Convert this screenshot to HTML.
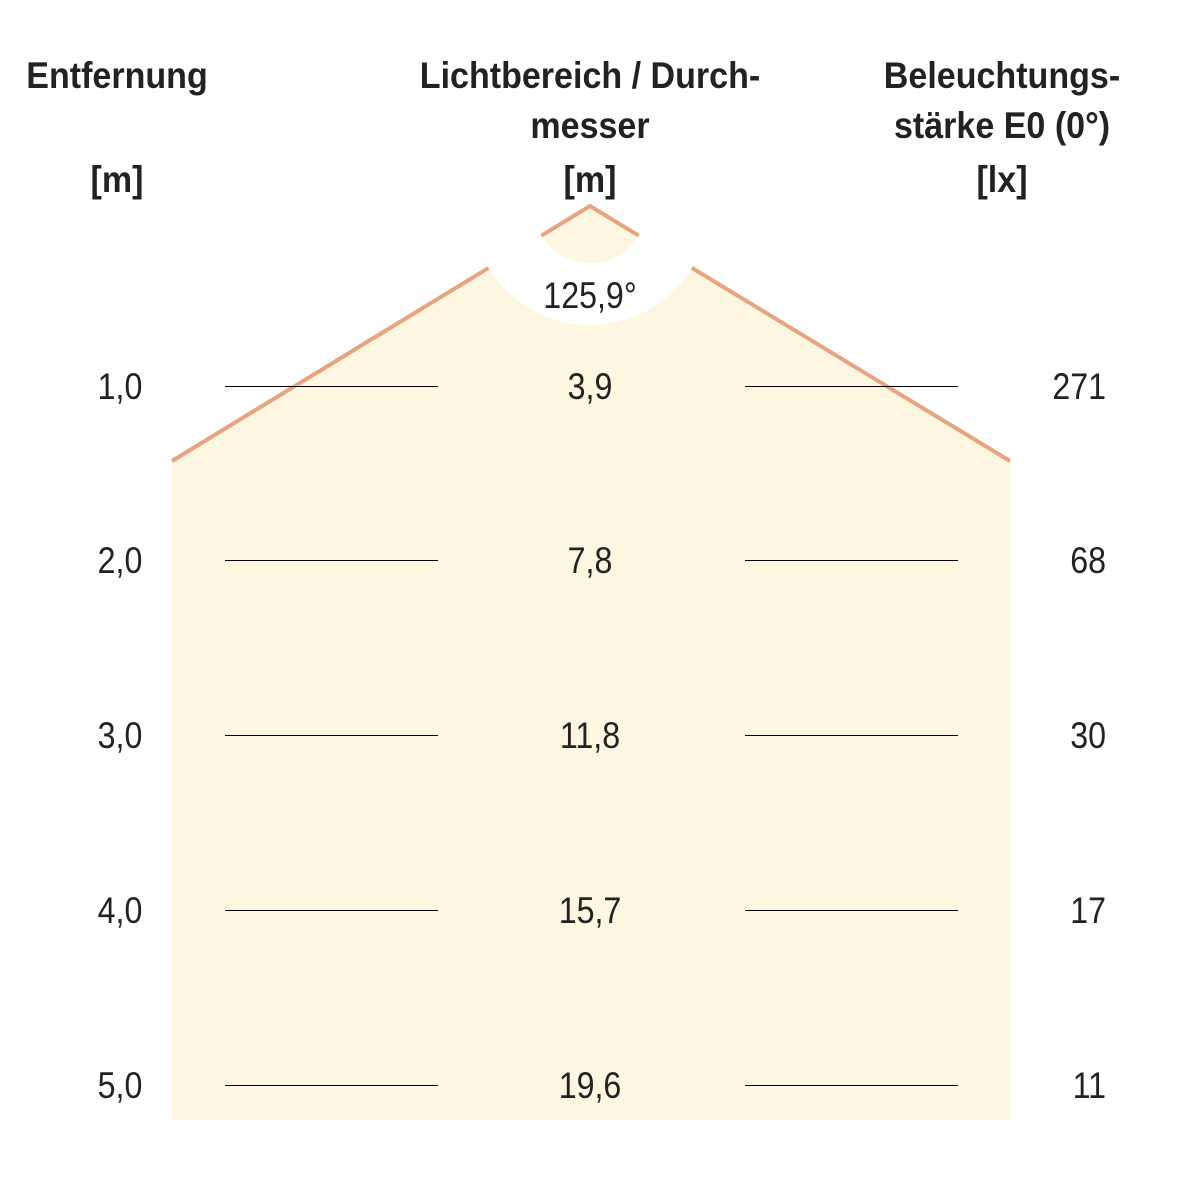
<!DOCTYPE html>
<html><head><style>body{margin:0;background:#fff}</style></head><body>
<svg width="1182" height="1182" viewBox="0 0 1182 1182" xmlns="http://www.w3.org/2000/svg">
<rect width="1182" height="1182" fill="#fff"/>
<polygon points="590,206 172,461 172,1120 1010,1120 1010,461" fill="#fdf7e1"/>
<polyline points="172,461 590,206 1010,461" fill="none" stroke="#e8a47e" stroke-width="4"/>
<circle cx="590" cy="206" r="88" fill="none" stroke="#fff" stroke-width="62"/>
<g stroke="#000" stroke-width="1" shape-rendering="crispEdges">
<line x1="225" y1="386.5" x2="438" y2="386.5"/><line x1="745" y1="386.5" x2="958" y2="386.5"/>
<line x1="225" y1="560.5" x2="438" y2="560.5"/><line x1="745" y1="560.5" x2="958" y2="560.5"/>
<line x1="225" y1="735.5" x2="438" y2="735.5"/><line x1="745" y1="735.5" x2="958" y2="735.5"/>
<line x1="225" y1="910.5" x2="438" y2="910.5"/><line x1="745" y1="910.5" x2="958" y2="910.5"/>
<line x1="225" y1="1085.5" x2="438" y2="1085.5"/><line x1="745" y1="1085.5" x2="958" y2="1085.5"/>
</g>
<g font-family="Liberation Sans, sans-serif" font-weight="bold" font-size="37" fill="#222" text-anchor="middle">
<text transform="translate(117,88) scale(0.92,1)">Entfernung</text>
<text transform="translate(117,192) scale(0.92,1)">[m]</text>
<text transform="translate(590,88) scale(0.92,1)">Lichtbereich / Durch-</text>
<text transform="translate(590,138) scale(0.92,1)">messer</text>
<text transform="translate(590,192) scale(0.92,1)">[m]</text>
<text transform="translate(1002,88) scale(0.92,1)">Beleuchtungs-</text>
<text transform="translate(1002,138) scale(0.92,1)">stärke E0 (0°)</text>
<text transform="translate(1002,192) scale(0.92,1)">[lx]</text>
</g>
<g font-family="Liberation Sans, sans-serif" font-size="37" fill="#222" text-anchor="middle">
<text transform="translate(590,308) scale(0.87,1)">125,9°</text>
<text transform="translate(120,399) scale(0.87,1)">1,0</text>
<text transform="translate(590,399) scale(0.87,1)">3,9</text>
<text transform="translate(120,573) scale(0.87,1)">2,0</text>
<text transform="translate(590,573) scale(0.87,1)">7,8</text>
<text transform="translate(120,748) scale(0.87,1)">3,0</text>
<text transform="translate(590,748) scale(0.87,1)">11,8</text>
<text transform="translate(120,923) scale(0.87,1)">4,0</text>
<text transform="translate(590,923) scale(0.87,1)">15,7</text>
<text transform="translate(120,1098) scale(0.87,1)">5,0</text>
<text transform="translate(590,1098) scale(0.87,1)">19,6</text>
</g>
<g font-family="Liberation Sans, sans-serif" font-size="37" fill="#222" text-anchor="end">
<text transform="translate(1106,399) scale(0.87,1)">271</text>
<text transform="translate(1106,573) scale(0.87,1)">68</text>
<text transform="translate(1106,748) scale(0.87,1)">30</text>
<text transform="translate(1106,923) scale(0.87,1)">17</text>
<text transform="translate(1106,1098) scale(0.87,1)">11</text>
</g>
</svg>
</body></html>
